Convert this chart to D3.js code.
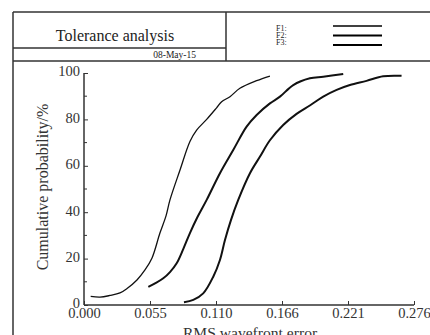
<!DOCTYPE html>
<html>
<head>
<meta charset="utf-8">
<title>Tolerance analysis</title>
<script src="https://d3js.org/d3.v7.min.js"></script>
<style>
  body { margin: 0; background: #fff; }
  svg { display: block; font-family: "Liberation Serif", "DejaVu Serif", serif; }
</style>
</head>
<body>
<script>
// data: RMS wavefront error vs cumulative probability (%)
var f1x = [0.0056, 0.0134, 0.0217, 0.0301, 0.0360, 0.0443, 0.0510, 0.0569, 0.0635, 0.0686, 0.0719, 0.0803, 0.0886, 0.0942, 0.1026, 0.1109, 0.1151, 0.1221, 0.1304, 0.1444, 0.1555];
var f1y = [3.7, 3.4, 4.1, 5.2, 7.1, 10.8, 15.1, 20.3, 31.0, 38.4, 45.3, 58.2, 70.5, 75.4, 80.0, 85.0, 87.6, 89.8, 93.4, 96.7, 98.7];

var f2x = [0.0538, 0.0594, 0.0663, 0.0719, 0.0775, 0.0830, 0.0886, 0.0945, 0.1026, 0.1137, 0.1248, 0.1360, 0.1444, 0.1555, 0.1639, 0.1750, 0.1889, 0.2001, 0.2168];
var f2y = [7.8, 9.3, 11.5, 14.2, 18.0, 24.1, 31.0, 37.5, 45.3, 56.8, 66.8, 76.9, 81.9, 86.9, 89.8, 94.8, 97.7, 98.4, 99.6];

var f3x = [0.0836, 0.0914, 0.0997, 0.1081, 0.1137, 0.1179, 0.1229, 0.1290, 0.1388, 0.1471, 0.1555, 0.1666, 0.1778, 0.1889, 0.2001, 0.2113, 0.2224, 0.2363, 0.2502, 0.2656];
var f3y = [1.2, 2.2, 5.0, 12.2, 19.4, 28.0, 36.6, 45.3, 56.8, 63.9, 71.0, 77.6, 82.4, 86.0, 89.8, 92.7, 94.8, 96.6, 98.6, 98.8];

var seriesNames = ["F1:", "F2:", "F3:"];
var xTicks = [0, 0.0552, 0.1104, 0.1656, 0.2208, 0.276];
var yTicks = [0, 20, 40, 60, 80, 100];
var yMinor = [10, 30, 50, 70, 90];

var W = 430, H = 335;
var mLeft = 84, mRight = 414, mTop = 73, mBottom = 305;

var svg = d3.select("body").append("svg")
    .attr("width", W)
    .attr("height", H);

// frame / title block
var ink = "#333";
var frame = svg.append("g").attr("stroke", ink).attr("stroke-width", 1.5).attr("fill", "none");
frame.append("line").attr("x1", 13).attr("x2", W + 5).attr("y1", 12).attr("y2", 12);
frame.append("line").attr("x1", 13).attr("x2", 13).attr("y1", 12).attr("y2", H + 5);
frame.append("line").attr("x1", 13).attr("x2", 226).attr("y1", 48).attr("y2", 48);
frame.append("line").attr("x1", 13).attr("x2", W + 5).attr("y1", 61).attr("y2", 61);
frame.append("line").attr("x1", 226).attr("x2", 226).attr("y1", 12).attr("y2", 61);

svg.append("text")
    .attr("x", 115).attr("y", 41)
    .attr("text-anchor", "middle")
    .attr("font-size", 16)
    .attr("fill", "#222")
    .text("Tolerance analysis");

svg.append("text")
    .attr("x", 196).attr("y", 58)
    .attr("text-anchor", "end")
    .attr("font-size", 9.5)
    .attr("fill", "#222")
    .text("08-May-15");

// legend
var widths = [1.3, 2, 2];
seriesNames.forEach(function(n, i) {
  svg.append("text")
      .attr("x", 276).attr("y", 31 + i * 7)
      .attr("font-size", 8)
      .attr("fill", "#222")
      .text(n);
  svg.append("line")
      .attr("x1", 333).attr("x2", 382)
      .attr("y1", 26 + i * 9.5).attr("y2", 26 + i * 9.5)
      .attr("stroke", "#000")
      .attr("stroke-width", widths[i]);
});

// scales
var x = d3.scaleLinear().domain([0, 0.276]).range([mLeft, mRight]);
var y = d3.scaleLinear().domain([0, 100]).range([mBottom, mTop]);

// axes
var xAxis = svg.append("g")
    .attr("transform", "translate(0," + mBottom + ")")
    .call(d3.axisBottom(x).tickValues(xTicks).tickSize(-4).tickPadding(3).tickFormat(d3.format(".3f")));
var yAxis = svg.append("g")
    .attr("transform", "translate(" + mLeft + ",0)")
    .call(d3.axisLeft(y).tickValues(yTicks).tickSize(-4).tickPadding(4));
yAxis.selectAll(".minor").data(yMinor).enter().append("line")
    .attr("class", "minor")
    .attr("x1", 0).attr("x2", 3)
    .attr("y1", function(d) { return y(d); })
    .attr("y2", function(d) { return y(d); })
    .attr("stroke", ink);

[xAxis, yAxis].forEach(function(g) {
  g.attr("font-family", "Liberation Serif, serif").attr("font-size", 14.5);
  g.selectAll("path").attr("stroke", ink).attr("stroke-width", 1.5);
  g.selectAll(".tick line").attr("stroke", ink);
  g.selectAll("text").attr("fill", "#333");
});
yAxis.selectAll(".tick text").attr("dy", "0.2em");
xAxis.select(".domain").attr("d", "M" + mLeft + ",0H" + mRight);
yAxis.select(".domain").attr("d", "M0," + mBottom + "V" + mTop);

svg.append("text")
    .attr("x", 250).attr("y", 338)
    .attr("text-anchor", "middle")
    .attr("font-size", 15.6)
    .attr("fill", "#333")
    .text("RMS wavefront error");

svg.append("text")
    .attr("transform", "translate(48,187) rotate(-90)")
    .attr("text-anchor", "middle")
    .attr("font-size", 16)
    .attr("fill", "#333")
    .text("Cumulative probability/%");

// curves
var line = d3.line()
    .x(function(d) { return x(d[0]); })
    .y(function(d) { return y(d[1]); })
    .curve(d3.curveCatmullRom);

var series = [d3.zip(f1x, f1y), d3.zip(f2x, f2y), d3.zip(f3x, f3y)];
svg.append("g").selectAll("path")
    .data(series)
    .enter().append("path")
    .attr("d", line)
    .attr("fill", "none")
    .attr("stroke", "#111")
    .attr("stroke-width", function(d, i) { return widths[i]; })
    .attr("stroke-linejoin", "round");
</script>
</body>
</html>
